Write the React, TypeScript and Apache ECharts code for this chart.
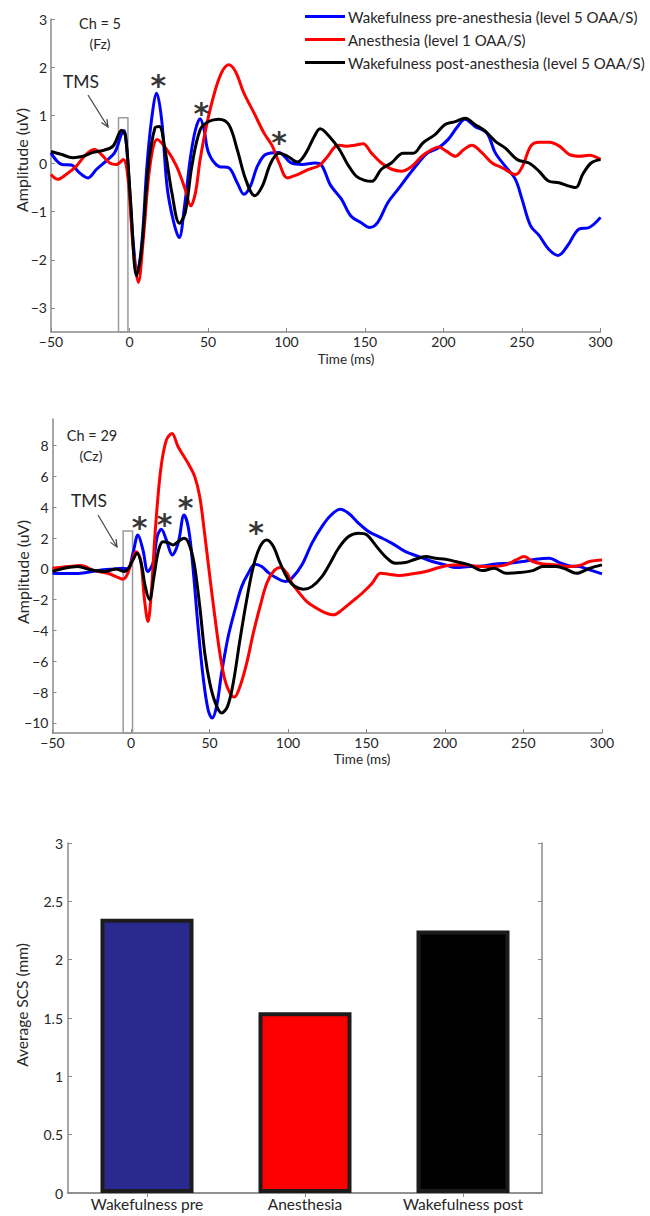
import React, { useEffect, useRef } from "react";
import * as echarts from "echarts";

const legendNames = [
  "Wakefulness pre-anesthesia (level 5 OAA/S)",
  "Anesthesia (level 1 OAA/S)",
  "Wakefulness post-anesthesia (level 5 OAA/S)",
];
const timeTicks = [-50, 0, 50, 100, 150, 200, 250, 300];
const fzTicks = [-3, -2, -1, 0, 1, 2, 3];
const czTicks = [-10, -8, -6, -4, -2, 0, 2, 4, 6, 8];

// Ch = 5 (Fz): [time ms, amplitude uV]
const fzPre: [number, number][] = [
  [-50, 0.22], [-43, -0.02], [-37, -0.03], [-32, -0.19], [-26.5, -0.3], [-21, -0.12], [-15, 0.05], [-9.5, 0.22],
  [-5, 0.62], [-3.5, 0.68], [-2, 0.4], [0, -0.5], [2, -1.5], [5, -2.26], [8, -1.6], [11, -0.1], [14, 0.9],
  [17.3, 1.46], [20.5, 0.9], [24, -0.5], [28, -1.2], [31.6, -1.54], [35, -0.9], [38.7, 0.1], [42, 0.7], [45, 0.93],
  [47.5, 0.7], [50.4, 0.22], [56.8, -0.06], [63.2, -0.09], [68.6, -0.4], [72.9, -0.64], [77, -0.47], [81.4, -0.06],
  [86.8, 0.19], [95, 0.23], [103, 0.01], [110, -0.02], [118, 0.01], [122, -0.02], [128, -0.45], [135, -0.74],
  [141, -1.09], [147.6, -1.23], [153, -1.33], [158, -1.23], [164.6, -0.81], [171, -0.54], [177.4, -0.26], [184, 0.01],
  [190, 0.22], [196.6, 0.32], [203, 0.5], [208.4, 0.74], [213.7, 0.92], [220, 0.77], [227.6, 0.63], [233, 0.22],
  [239.4, -0.06], [245.8, -0.33], [250, -0.74], [255.4, -1.29], [261, -1.5], [267, -1.78], [273, -1.91], [279, -1.71],
  [286.4, -1.36], [292.8, -1.33], [300, -1.12],
];
const fzAnes: [number, number][] = [
  [-50, -0.23], [-45.7, -0.33], [-40.4, -0.23], [-34, -0.06], [-27.6, 0.19], [-22.2, 0.29], [-18, 0.19], [-12.6, 0.01],
  [-8.3, -0.02], [-4, 0.08], [-1, -0.3], [2.4, -1.78], [5.6, -2.47], [8.8, -1.57], [13, -0.06], [17.7, 0.5],
  [23.7, 0.29], [30, -0.06], [35.5, -0.54], [39, -0.88], [42, -0.61], [45, 0.08], [49.4, 0.84], [54.7, 1.53],
  [59, 1.91], [63.2, 2.05], [67.5, 1.91], [72.9, 1.46], [79.3, 1.05], [85.7, 0.63], [91, 0.36], [95.3, 0.01],
  [100.6, -0.3], [107, -0.23], [114.5, -0.12], [121, -0.04], [126.3, 0.15], [132.7, 0.38], [138, 0.36], [143.4, 0.38],
  [148.8, 0.41], [154, 0.22], [160.5, 0.01], [167, -0.12], [173.3, -0.16], [179.8, -0.06], [186.2, 0.15], [192.6, 0.29],
  [197, 0.34], [202, 0.25], [207.5, 0.15], [213, 0.29], [218, 0.38], [224.6, 0.22], [231, 0.01], [237.5, -0.09],
  [246, -0.23], [250.3, -0.06], [255.6, 0.36], [261, 0.44], [267.4, 0.44], [273.8, 0.36], [280, 0.19], [286.7, 0.15],
  [293, 0.17], [300, 0.08],
];
const fzPost: [number, number][] = [
  [-50, 0.25], [-43.6, 0.19], [-36, 0.12], [-29.7, 0.15], [-23.3, 0.23], [-17, 0.27], [-10.5, 0.36], [-5, 0.69],
  [-2.5, 0.56], [0.6, -0.74], [4.5, -2.33], [7.7, -1.78], [12, -0.06], [16.2, 0.74], [19, 0.77], [22.6, 0.29],
  [27, -0.61], [31.8, -1.24], [35.5, -1.02], [39.7, -0.06], [45, 0.7], [50.4, 0.87], [56.8, 0.92], [63.2, 0.81],
  [68.6, 0.29], [74, -0.33], [79.7, -0.67], [84.6, -0.47], [90, 0.01], [95.3, 0.21], [100.6, 0.15], [107, 0.03],
  [112.4, 0.22], [117.7, 0.56], [121.4, 0.72], [127.3, 0.56], [133.7, 0.29], [139, -0.02], [144.3, -0.26], [149.7, -0.35],
  [154.4, -0.37], [160.4, -0.12], [166.8, 0.01], [174.3, 0.21], [180.7, 0.21], [187, 0.43], [194.6, 0.6], [201, 0.81],
  [207.4, 0.87], [213.8, 0.94], [220, 0.81], [226.6, 0.67], [233, 0.46], [239.4, 0.32], [247, 0.08], [254.4, 0.01],
  [260.8, -0.16], [267.2, -0.37], [273.6, -0.4], [280, -0.47], [284.3, -0.5], [288.6, -0.23], [294, 0.01], [300, 0.08],
];

// Ch = 29 (Cz)
const czPre: [number, number][] = [
  [-50, -0.28], [-40, -0.3], [-32, -0.28], [-21, -0.1], [-10.6, 0], [-5.2, 0.04], [-2, 0.0], [1.2, 1.0], [4.4, 2.2],
  [7.6, 1.23], [10.8, -0.17], [14, 0.37], [16.7, 2.1], [19.3, 2.57], [22.5, 1.88], [26.3, 0.91], [30, 1.66], [33.8, 3.5],
  [36.8, 2.53], [39.6, -0.06], [42.7, -3.74], [45.9, -6.98], [49.1, -9.14], [51.7, -9.68], [54.5, -8.92], [57.7, -6.76],
  [61.9, -4.39], [66.2, -2.66], [70.5, -1.15], [74.7, -0.28], [79, 0.3], [83.3, 0.15], [87.5, -0.24], [92.9, -0.6],
  [98.2, -0.82], [102.5, -0.6], [108.8, 0.25], [115.2, 1.66], [121.6, 2.74], [127, 3.45], [133.3, 3.87], [138.6, 3.61],
  [145, 2.96], [151.4, 2.42], [157.8, 2.1], [166.3, 1.66], [174.8, 1.12], [183.4, 0.8], [191.9, 0.48], [200.4, 0.26],
  [206.8, 0.09], [215.3, 0.15], [223.8, 0.19], [232.4, 0.32], [240.9, 0.37], [249.4, 0.48], [257.9, 0.63], [266.5, 0.69],
  [272.9, 0.41], [279.3, 0.19], [285.7, 0.15], [292.1, -0.06], [300, -0.32],
];
const czAnes: [number, number][] = [
  [-50, 0.04], [-40, 0.15], [-32, 0.22], [-23.3, -0.11], [-14.8, -0.28], [-9.5, -0.5], [-5.2, -0.67], [-2.5, -0.39],
  [0.7, 0.58], [3.3, 1.12], [6.1, 0.58], [8.6, -2.0], [10.8, -3.41], [12.9, -1.58], [15.5, 2.53], [18.9, 6.42],
  [22.5, 8.36], [26.1, 8.79], [30, 7.93], [36.4, 6.85], [40.6, 5.99], [43.8, 4.69], [46.6, 2.53], [50.2, -0.5],
  [53.4, -3.09], [56.6, -5.47], [59.8, -7.2], [63, -8.06], [65.8, -8.32], [69.4, -7.63], [73.7, -6.11], [77.9, -4.17],
  [82.2, -2.44], [86.5, -0.93], [90.7, -0.17], [95, 0.09], [99.3, -0.28], [102.5, -0.93], [106.7, -1.5], [112, -2.12],
  [117.4, -2.5], [122.7, -2.8], [129, -2.98], [134.4, -2.66], [140.8, -2.12], [147.2, -1.58], [153.6, -0.93],
  [158.9, -0.28], [164.2, -0.35], [170.6, -0.43], [179.2, -0.32], [187.7, -0.17], [196.2, 0.09], [204.7, 0.26],
  [213.3, 0.26], [221.8, 0.15], [230.3, 0.15], [238.8, 0.26], [245.2, 0.58], [250.5, 0.8], [255.9, 0.48], [262.3, 0.32],
  [270.8, 0.26], [279.3, 0.15], [285.7, 0.22], [292.1, 0.48], [300, 0.58],
];
const czPost: [number, number][] = [
  [-50, -0.17], [-42.5, 0.04], [-34, 0.15], [-25.5, -0.06], [-17, -0.17], [-9.5, 0], [-4.2, -0.17], [-1, 0.15],
  [1.2, 0.58], [3.9, 1.02], [6.5, 0.37], [9.1, -1.15], [11.8, -2.0], [14.6, -0.5], [17.6, 1.23], [20.4, 1.77],
  [23.6, 1.71], [26.8, 1.56], [30, 1.77], [33.8, 1.99], [36.8, 1.66], [40.2, 0.37], [43.8, -2.44], [47, -5.47],
  [50.2, -7.41], [53.8, -8.71], [57.7, -9.36], [61.5, -8.92], [65.1, -7.41], [69.4, -4.6], [73.7, -2.0], [77.9, 0.15],
  [82.2, 1.45], [86.5, 1.88], [90.7, 1.45], [95, 0.37], [100.3, -0.71], [104.6, -1.15], [109.9, -1.32], [115.2, -1.15],
  [121.6, -0.5], [127, 0.4], [132.2, 1.34], [138.6, 2.1], [145, 2.31], [150.3, 2.2], [155.6, 1.56], [162, 0.8],
  [168.4, 0.37], [174.8, 0.41], [181.2, 0.63], [187.6, 0.8], [194, 0.69], [200.4, 0.63], [206.8, 0.48], [215.3, 0.26],
  [223.8, -0.11], [231.3, 0.04], [238.8, -0.28], [247.3, -0.24], [255.9, -0.11], [262.3, 0.15], [270.8, 0.15],
  [277.2, -0.02], [283.6, -0.28], [292.1, 0.04], [300, 0.26],
];

// significance markers (asterisk centres)
const fzStars: [number, number][] = [[18.4, 1.74], [45.7, 1.17], [95.3, 0.56]];
const czStars: [number, number][] = [[5.4, 3.07], [21.4, 3.28], [34.8, 4.36], [79.6, 2.74]];
// TMS window [t0, t1, yTop]
const fzTms = [-7, -1, 0.95];
const czTms = [-5, 1, 2.46];

// bar chart
const scsCategories = ["Wakefulness pre", "Anesthesia", "Wakefulness post"];
const scsValues = [2.35, 1.55, 2.25];
const scsColors = ["#292990", "#ff0000", "#000000"];

const FONT = "Lato";
const AXIS_GRAY = "#8a8a8a";
const TEXT = "#262626";
const COLORS = ["#0000ff", "#ff0000", "#000000"];

const minus = (v: number) => String(v).replace("-", "\u2212");

function arrow(x1: number, y1: number, x2: number, y2: number) {
  const dx = x2 - x1, dy = y2 - y1;
  const len = Math.hypot(dx, dy);
  const ux = dx / len, uy = dy / len;
  const h = 8, a = 0.42;
  const rot = (ang: number) => [
    x2 - h * (ux * Math.cos(ang) - uy * Math.sin(ang)),
    y2 - h * (ux * Math.sin(ang) + uy * Math.cos(ang)),
  ];
  const style = { stroke: "#444", lineWidth: 1.2, fill: "none" };
  return [
    { type: "line", shape: { x1, y1, x2, y2 }, style },
    { type: "polyline", shape: { points: [rot(a), [x2, y2], rot(-a)] }, style },
  ];
}

function txt(text: string, x: number, y: number, size: number, extra: any = {}) {
  return {
    type: "text",
    x,
    y,
    style: {
      text,
      fontFamily: FONT,
      fontSize: size,
      fill: TEXT,
      textAlign: "center",
      textVerticalAlign: "middle",
    },
    ...extra,
  };
}

export default function App() {
  const ref = useRef<HTMLDivElement>(null);
  useEffect(() => {
    if (!ref.current) return;
    const chart = echarts.init(ref.current, undefined, { renderer: "svg" });

    const timeAxis = (gridIndex: number) => ({
      type: "value",
      gridIndex,
      min: -50,
      max: 300,
      interval: 50,
      axisLine: { show: true, onZero: false, lineStyle: { color: AXIS_GRAY, width: 1.5 } },
      axisTick: { show: true, inside: true, length: 4, customValues: timeTicks, lineStyle: { color: AXIS_GRAY } },
      axisLabel: { show: true, color: TEXT, fontSize: 14, fontFamily: FONT, margin: 2, customValues: timeTicks, formatter: minus },
      splitLine: { show: false },
    });
    const ampAxis = (gridIndex: number, min: number, max: number, ticks: number[], interval: number) => ({
      type: "value",
      gridIndex,
      min,
      max,
      interval,
      axisLine: { show: true, onZero: false, lineStyle: { color: AXIS_GRAY, width: 1.5 } },
      axisTick: { show: true, inside: true, length: 4, customValues: ticks, lineStyle: { color: AXIS_GRAY } },
      axisLabel: { show: true, color: TEXT, fontSize: 14, fontFamily: FONT, margin: 4, customValues: ticks, formatter: minus },
      splitLine: { show: false },
    });

    const lineSeries = (name: string, data: [number, number][], color: string, axisIdx: number, extra: any = {}) => ({
      type: "line",
      name,
      data,
      xAxisIndex: axisIdx,
      yAxisIndex: axisIdx,
      smooth: 0.35,
      showSymbol: false,
      symbol: "none",
      lineStyle: { color, width: 3 },
      itemStyle: { color },
      z: 3,
      ...extra,
    });
    const tmsArea = (w: number[], yMin: number) => ({
      silent: true,
      itemStyle: { color: "rgba(0,0,0,0)", borderColor: "#9a9a9a", borderWidth: 1.5 },
      label: { show: false },
      data: [[{ coord: [w[0], yMin] }, { coord: [w[1], w[2]] }]],
    });
    const starSeries = (data: [number, number][], axisIdx: number) => ({
      type: "scatter",
      data,
      xAxisIndex: axisIdx,
      yAxisIndex: axisIdx,
      symbolSize: 1,
      itemStyle: { color: "rgba(0,0,0,0)" },
      silent: true,
      z: 5,
      label: {
        show: true,
        position: "inside",
        formatter: "*",
        fontFamily: "DejaVu Sans",
        fontWeight: "bold",
        fontSize: 30,
        color: "#000",
        offset: [0, 6],
      },
    });

    const option: any = {
      animation: false,
      backgroundColor: "#ffffff",
      legend: {
        data: legendNames,
        orient: "vertical",
        left: 300,
        top: 3,
        icon: "rect",
        itemWidth: 40,
        itemHeight: 3,
        itemGap: 6,
        selectedMode: false,
        textStyle: { fontFamily: FONT, fontSize: 15, color: TEXT, padding: [0, 0, 0, -2], lineHeight: 17 },
      },
      grid: [
        { left: 51, top: 19, width: 549.5, height: 313 },
        { left: 52.5, top: 419, width: 549.5, height: 314 },
        { left: 68, top: 843, width: 474, height: 350 },
      ],
      xAxis: [
        timeAxis(0),
        timeAxis(1),
        {
          type: "category",
          gridIndex: 2,
          data: scsCategories,
          axisLine: { show: true, lineStyle: { color: AXIS_GRAY, width: 1.5 } },
          axisTick: { show: true, inside: true, alignWithLabel: true, length: 4, lineStyle: { color: AXIS_GRAY } },
          axisLabel: { show: true, color: TEXT, fontSize: 15.5, fontFamily: FONT, margin: 3 },
        },
        {
          type: "category",
          gridIndex: 2,
          position: "top",
          data: scsCategories,
          axisLine: { show: true, lineStyle: { color: AXIS_GRAY, width: 1.5 } },
          axisTick: { show: true, inside: true, alignWithLabel: true, length: 4, lineStyle: { color: AXIS_GRAY } },
          axisLabel: { show: false },
        },
      ],
      yAxis: [
        ampAxis(0, -3.5, 3, fzTicks, 0.5),
        ampAxis(1, -10.65, 9.73, czTicks, 2),
        {
          type: "value",
          gridIndex: 2,
          min: 0,
          max: 3,
          interval: 0.5,
          axisLine: { show: true, lineStyle: { color: AXIS_GRAY, width: 1.5 } },
          axisTick: { show: true, inside: true, length: 4, lineStyle: { color: AXIS_GRAY } },
          axisLabel: { show: true, color: TEXT, fontSize: 14, fontFamily: FONT, margin: 5 },
          splitLine: { show: false },
        },
        {
          type: "value",
          gridIndex: 2,
          position: "right",
          min: 0,
          max: 3,
          interval: 0.5,
          axisLine: { show: true, lineStyle: { color: AXIS_GRAY, width: 1.5 } },
          axisTick: { show: true, inside: true, length: 4, lineStyle: { color: AXIS_GRAY } },
          axisLabel: { show: false },
          splitLine: { show: false },
        },
      ],
      series: [
        lineSeries(legendNames[0], fzPre, COLORS[0], 0, { markArea: tmsArea(fzTms, -3.5) }),
        lineSeries(legendNames[1], fzAnes, COLORS[1], 0),
        lineSeries(legendNames[2], fzPost, COLORS[2], 0),
        starSeries(fzStars, 0),
        lineSeries(legendNames[0], czPre, COLORS[0], 1, { markArea: tmsArea(czTms, -10.65) }),
        lineSeries(legendNames[1], czAnes, COLORS[1], 1),
        lineSeries(legendNames[2], czPost, COLORS[2], 1),
        starSeries(czStars, 1),
        {
          type: "bar",
          name: "Average SCS",
          xAxisIndex: 2,
          yAxisIndex: 2,
          barWidth: 93,
          data: scsValues.map((v, i) => ({ value: v, itemStyle: { color: scsColors[i] } })),
          itemStyle: { borderColor: "#1c1c1c", borderWidth: 4 },
        },
      ],
      graphic: [
        txt("Ch = 5", 100, 23, 14.5),
        txt("(Fz)", 100, 43, 14),
        txt("TMS", 81, 81, 17.5),
        ...arrow(88, 95, 108, 127),
        txt("Amplitude (uV)", 21.5, 160, 16, { rotation: Math.PI / 2 }),
        txt("Time (ms)", 346, 359, 13.5),
        txt("Ch = 29", 92, 435, 14.5),
        txt("(Cz)", 91, 455, 14),
        txt("TMS", 89, 500, 17.5),
        ...arrow(98, 515, 117, 547),
        txt("Amplitude (uV)", 22, 572, 16, { rotation: Math.PI / 2 }),
        txt("Time (ms)", 362, 759, 13.5),
        txt("Average SCS (mm)", 21.5, 1005, 15.5, { rotation: Math.PI / 2 }),
      ],
    };
    chart.setOption(option);
    return () => chart.dispose();
  }, []);
  return (
    <div
      ref={ref}
      style={{ position: "absolute", left: 0, top: 0, width: 650, height: 1216, background: "#fff" }}
    />
  );
}
